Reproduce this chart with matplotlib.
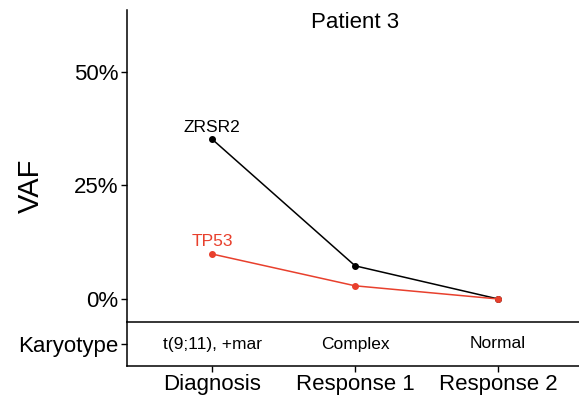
#
# VAF por gen a lo largo del tiempo, paciente 3
#
import matplotlib.pyplot as plt

plt.rcParams["font.family"] = ["Liberation Sans", "DejaVu Sans"]

timepoints = ["Diagnosis", "Response 1", "Response 2"]
karyotype = ["t(9;11), +mar", "Complex", "Normal"]
zrsr2 = [35.2, 7.3, 0.0]
tp53 = [9.9, 2.9, 0.0]

red = "#E8402D"
x = [1, 2, 3]

W, H = 579, 398
fig = plt.figure(figsize=(W / 100, H / 100), dpi=100)

# panel principal
ax = fig.add_axes([127 / W, 1 - 322 / H, (584 - 127) / W, (322 - 10) / H])
ax.plot(x, zrsr2, "-o", color="black", lw=1.1, ms=4)
ax.plot(x, tp53, "-o", color=red, lw=1.1, ms=4)
ax.text(x[0], zrsr2[0] + 1.0, "ZRSR2", ha="center", va="bottom", fontsize=12.5)
ax.text(x[0], tp53[0] + 1.0, "TP53", ha="center", va="bottom", fontsize=12.5, color=red)
ax.text(0.5, 0.995, "Patient 3", transform=ax.transAxes, ha="center", va="top", fontsize=16)

ax.set_xlim(0.405, 3.6)
ax.set_ylim(-5.07, 63.65)
ax.set_yticks([0, 25, 50])
ax.set_yticklabels(["0%", "25%", "50%"])
ax.set_xticks([])
ax.tick_params(axis="y", labelsize=16, length=4, width=1, pad=2)
for s in ["top", "right", "bottom"]:
    ax.spines[s].set_visible(False)
ax.spines["left"].set_linewidth(1.1)

# etiqueta del eje y centrada en ambos paneles
fig.text(31 / W, 1 - 186 / H, "VAF", rotation=90, ha="center", va="center", fontsize=21)

# franja de cariotipo
ax2 = fig.add_axes([127 / W, 1 - 366 / H, (584 - 127) / W, (366 - 322) / H])
ax2.set_xlim(0.405, 3.6)
ax2.set_ylim(0, 1)
for xi, k in zip(x, karyotype):
    ax2.text(xi, 0.5, k, ha="center", va="center", fontsize=12.5)
ax2.set_xticks(x)
ax2.set_xticklabels(timepoints)
ax2.set_yticks([0.5])
ax2.set_yticklabels(["Karyotype"])
ax2.tick_params(labelsize=16, length=4, width=1, pad=2)
ax2.spines["right"].set_visible(False)
for s in ["top", "left", "bottom"]:
    ax2.spines[s].set_linewidth(1.1)

fig.savefig("out.png", dpi=100)
